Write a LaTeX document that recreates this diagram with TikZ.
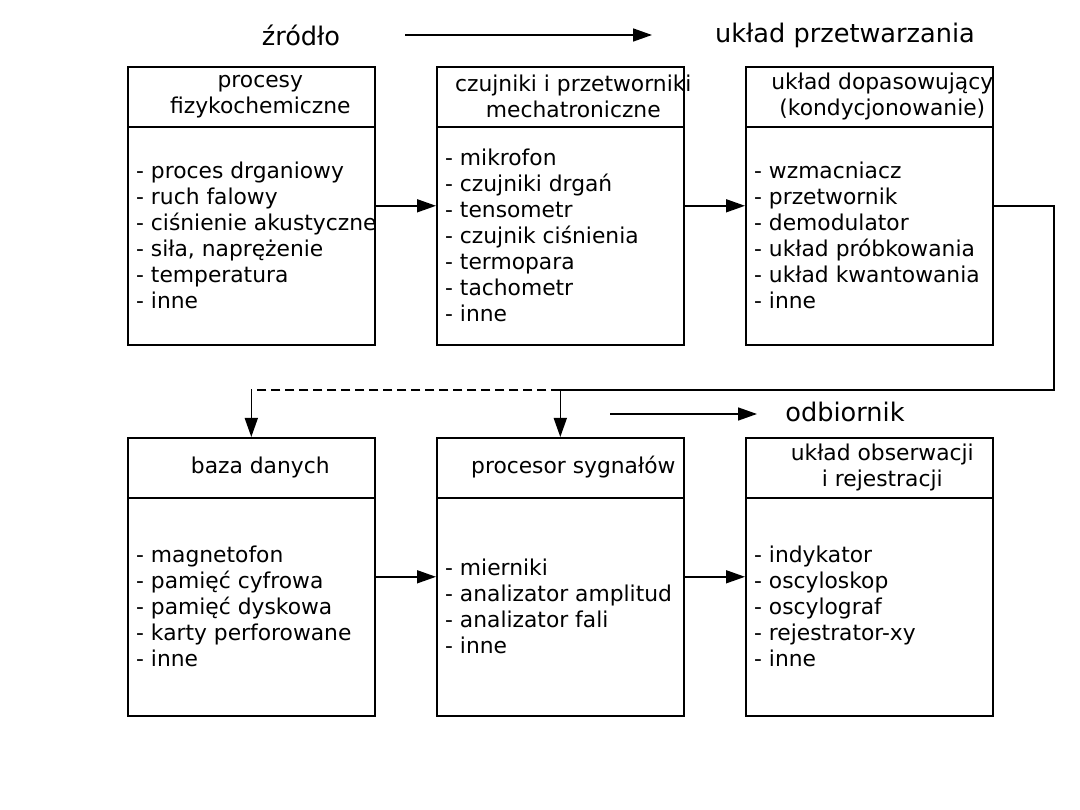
\documentclass[tikz,border=0pt]{standalone}
\usepackage{fontspec}
\setmainfont{DejaVu Sans}
\usetikzlibrary{arrows.meta}

\begin{document}
\begin{tikzpicture}[x=1pt,y=1pt,>={Triangle[length=19pt,width=13pt]},line join=miter,
  blok/.style={draw,line width=1.6pt,minimum width=247pt,minimum height=278pt,anchor=north west,inner sep=0pt},
  naglowek/.style={align=center,inner sep=0pt,font=\fontsize{21.8}{26}\selectfont},
  lista/.style={align=left,anchor=west,inner sep=0pt,font=\fontsize{21.8}{26}\selectfont},
  tytul/.style={inner sep=0pt,font=\fontsize{25.6}{30}\selectfont},
  linia/.style={line width=1.6pt},
  polaczenie/.style={->,line width=1.6pt}]
\useasboundingbox (0,0) rectangle (1080,-810);
% gorny rzad
\node[blok] (proc) at (127,-66) {};
\node[blok] (czuj) at (436,-66) {};
\node[blok] (dopa) at (745,-66) {};
% dolny rzad
\node[blok] (baza) at (127,-437) {};
\node[blok] (syg) at (436,-437) {};
\node[blok] (obs) at (745,-437) {};
\foreach \b in {proc,czuj,dopa,baza,syg,obs}
  \draw[linia] ([yshift=-61pt]\b.north west) -- ([yshift=-61pt]\b.north east);
\node[naglowek] (proc-h) at ([xshift=9pt,yshift=-30.5pt]proc.north) {procesy\\fizykochemiczne};
\node[naglowek] (czuj-h) at ([xshift=13pt,yshift=-30.5pt]czuj.north) {czujniki i przetworniki\\mechatroniczne};
\node[naglowek] (dopa-h) at ([xshift=13pt,yshift=-30.5pt]dopa.north) {układ dopasowujący\\(kondycjonowanie)};
\node[naglowek] (baza-h) at ([xshift=9pt,yshift=-30.5pt]baza.north) {baza danych};
\node[naglowek] (syg-h) at ([xshift=13pt,yshift=-30.5pt]syg.north) {procesor sygnałów};
\node[naglowek] (obs-h) at ([xshift=13pt,yshift=-30.5pt]obs.north) {układ obserwacji\\i rejestracji};
\node[lista] (proc-l) at ([xshift=9pt,yshift=-169.5pt]proc.north west) {- proces drganiowy\\- ruch falowy\\- ciśnienie akustyczne\\- siła, naprężenie\\- temperatura\\- inne};
\node[lista] (czuj-l) at ([xshift=9pt,yshift=-169.5pt]czuj.north west) {- mikrofon\\- czujniki drgań\\- tensometr\\- czujnik ciśnienia\\- termopara\\- tachometr\\- inne};
\node[lista] (dopa-l) at ([xshift=9pt,yshift=-169.5pt]dopa.north west) {- wzmacniacz\\- przetwornik\\- demodulator\\- układ próbkowania\\- układ kwantowania\\- inne};
\node[lista] (baza-l) at ([xshift=9pt,yshift=-169.5pt]baza.north west) {- magnetofon\\- pamięć cyfrowa\\- pamięć dyskowa\\- karty perforowane\\- inne};
\node[lista] (syg-l) at ([xshift=9pt,yshift=-169.5pt]syg.north west) {- mierniki\\- analizator amplitud\\- analizator fali\\- inne};
\node[lista] (obs-l) at ([xshift=9pt,yshift=-169.5pt]obs.north west) {- indykator\\- oscyloskop\\- oscylograf\\- rejestrator-xy\\- inne};
% napisy i strzalki kierunku
\node[tytul] (zrodlo) at (301,-35) {źródło};
\node[tytul] (przetw) at (845,-35) {układ przetwarzania};
\node[tytul] (odb) at (845,-412) {odbiornik};
\coordinate (z1) at (405,-35);
\coordinate (z2) at (652,-35);
\coordinate (o1) at (610,-414);
\coordinate (o2) at (757,-414);
\draw[polaczenie] (z1) -- (z2);
\draw[polaczenie] (o1) -- (o2);
% polaczenia blokow
\draw[polaczenie] (proc.east) -- (czuj.west);
\draw[polaczenie] (czuj.east) -- (dopa.west);
\draw[polaczenie] (baza.east) -- (syg.west);
\draw[polaczenie] (syg.east) -- (obs.west);
\coordinate (k1) at (1054,-390);
\coordinate (k2) at (syg.north |- k1);
\coordinate (k3) at (baza.north |- k1);
\draw[linia] (dopa.east) -| (k1) -- (k2);
\draw[linia,dash pattern=on 9pt off 5pt] (k2) -- (k3);
\draw[polaczenie] (k2) -- (syg.north);
\draw[polaczenie] (k3) -- (baza.north);
\end{tikzpicture}
\end{document}
